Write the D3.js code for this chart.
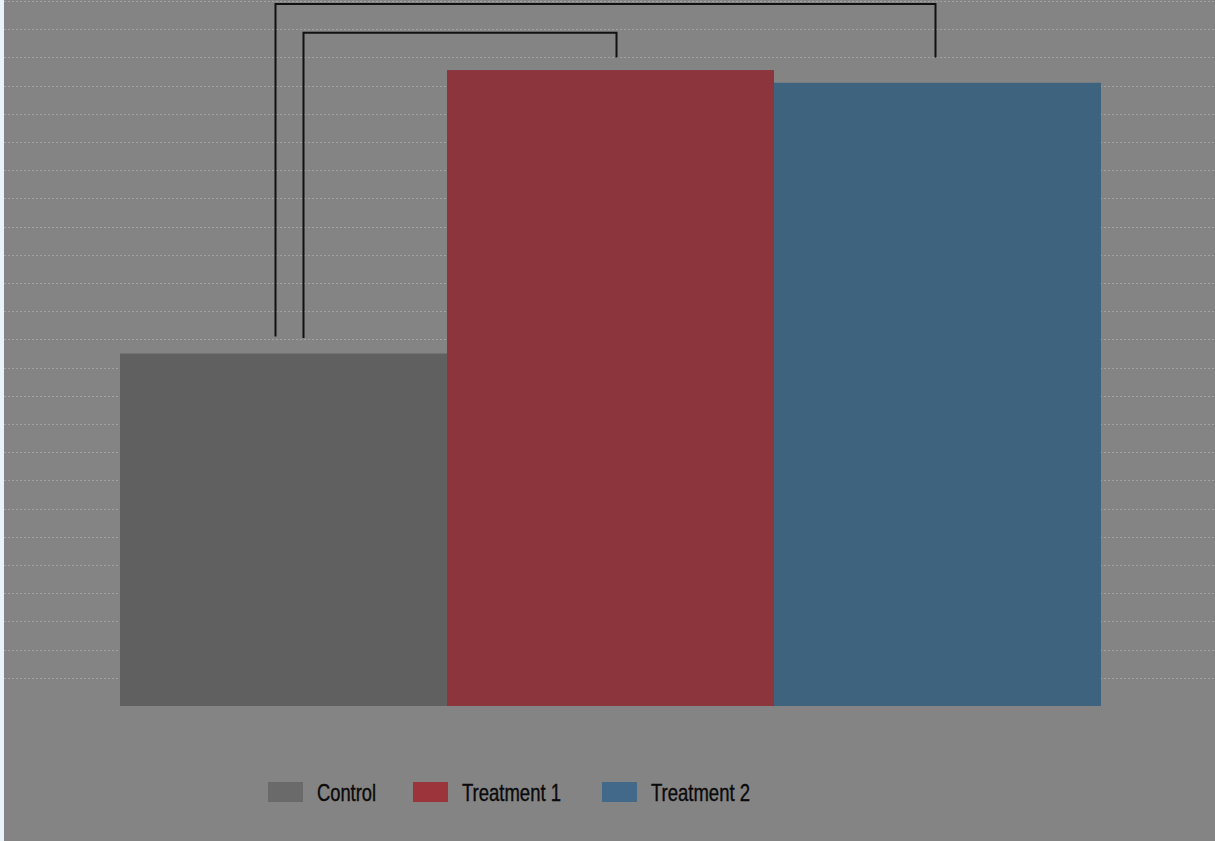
<!DOCTYPE html>
<html>
<head>
<meta charset="utf-8">
<script src="https://cdn.jsdelivr.net/npm/d3@7"></script>
<style>
  html, body { margin: 0; padding: 0; background: #e9f4fa; }
  svg { display: block; }
</style>
</head>
<body>
<svg id="chart" width="1215" height="841"></svg>
<script>
// Group means
const categories = ["Control", "Treatment 1", "Treatment 2"];
const values = [12.5, 22.55, 22.1];
const barColors = ["#606060", "#8c353d", "#3e637e"];
const legendColors = ["#6a6a6a", "#9c343b", "#42698a"];

// Grid ticks (no line drawn at zero)
const gridTicks = d3.range(1, 26);

// Significance brackets between the control and each treatment
const bracketFrom = ["Control", "Control"];
const bracketTo = ["Treatment 1", "Treatment 2"];
const bracketTop = [23.87, 24.89];
const bracketLeftEnd = [13.05, 13.1];
const bracketRightEnd = [23.0, 23.0];
const bracketLeftShift = [20, -8];
const bracketRightShift = [6, -2];

const svg = d3.select("#chart");
const W = 1215, H = 841;

// Panel background
svg.append("rect")
  .attr("x", 4).attr("y", 0)
  .attr("width", W - 4).attr("height", H)
  .attr("fill", "#848484");

const x = d3.scaleBand().domain(categories).range([120, 1101]).padding(0);
const y = d3.scaleLinear().domain([0, 25]).range([706, 1]);

// Dotted horizontal grid
svg.append("g")
  .selectAll("line")
  .data(gridTicks)
  .join("line")
  .attr("x1", 4).attr("x2", W)
  .attr("y1", d => Math.round(y(d)) + 0.5)
  .attr("y2", d => Math.round(y(d)) + 0.5)
  .attr("stroke", "#a2a2a2")
  .attr("stroke-width", 1)
  .attr("stroke-dasharray", "2,2");

// Bars
svg.append("g")
  .selectAll("rect")
  .data(categories)
  .join("rect")
  .attr("x", d => x(d))
  .attr("y", (d, i) => y(values[i]))
  .attr("width", x.bandwidth())
  .attr("height", (d, i) => y(0) - y(values[i]))
  .attr("fill", (d, i) => barColors[i]);

// Brackets
const bg = svg.append("g")
  .attr("fill", "none")
  .attr("stroke", "#111")
  .attr("stroke-width", 2);
bracketFrom.forEach((from, i) => {
  const x1 = x(from) + x.bandwidth() / 2 + bracketLeftShift[i];
  const x2 = x(bracketTo[i]) + x.bandwidth() / 2 + bracketRightShift[i];
  const path = d3.path();
  path.moveTo(x1, y(bracketLeftEnd[i]));
  path.lineTo(x1, y(bracketTop[i]));
  path.lineTo(x2, y(bracketTop[i]));
  path.lineTo(x2, y(bracketRightEnd[i]));
  bg.append("path").attr("d", path.toString());
});

// Legend
const legend = svg.append("g").attr("transform", "translate(268,782)");
let cursor = 0;
const textWidths = [59, 99, 99];
categories.forEach((c, i) => {
  const item = legend.append("g").attr("transform", `translate(${cursor},0)`);
  item.append("rect")
    .attr("width", 35).attr("height", 20)
    .attr("fill", legendColors[i]);
  item.append("text")
    .attr("x", 49).attr("y", 19)
    .attr("font-family", "Liberation Sans, Arial, sans-serif")
    .attr("font-size", 24)
    .attr("fill", "#0a0a0a")
    .attr("stroke", "#0a0a0a")
    .attr("stroke-width", 0.4)
    .attr("textLength", textWidths[i])
    .attr("lengthAdjust", "spacingAndGlyphs")
    .text(c);
  cursor += 49 + textWidths[i] + (i === 0 ? 37 : 41);
});
</script>
</body>
</html>
